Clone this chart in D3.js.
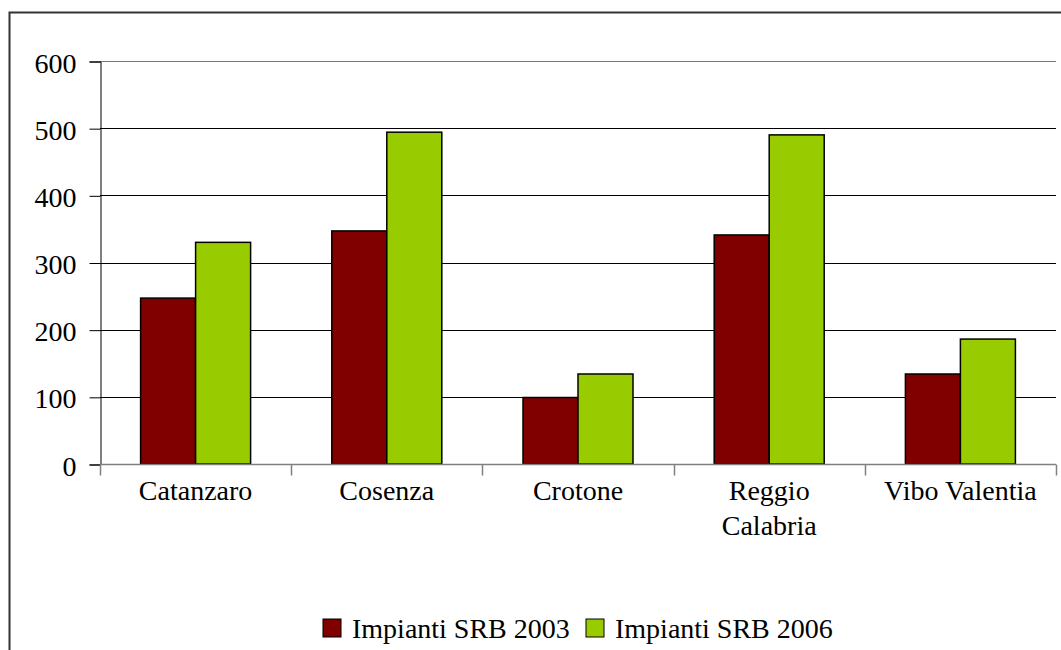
<!DOCTYPE html>
<html>
<head>
<meta charset="utf-8">
<script src="https://cdn.jsdelivr.net/npm/d3@7"></script>
<style>
  html, body { margin: 0; padding: 0; background: #fff; }
  svg { display: block; }
</style>
</head>
<body>
<svg id="chart" width="1061" height="650"></svg>
<script>
// Impianti SRB per provincia (Calabria)
const categories = ["Catanzaro", "Cosenza", "Crotone", "Reggio Calabria", "Vibo Valentia"];
const categoryLines = [["Catanzaro"], ["Cosenza"], ["Crotone"], ["Reggio", "Calabria"], ["Vibo Valentia"]];
const seriesNames = ["Impianti SRB 2003", "Impianti SRB 2006"];
const values2003 = [247, 347, 99, 341, 134];
const values2006 = [330, 494, 134, 490, 186];
const yTicks = [0, 100, 200, 300, 400, 500, 600];
const colors = ["#800000", "#99cc00"];

const FONT = "'Liberation Serif', 'Times New Roman', Tinos, serif";
const svg = d3.select("#chart");

// Outer chart frame (continues past the right and bottom edges)
svg.append("rect")
  .attr("x", 9.5).attr("y", 12.5)
  .attr("width", 1100).attr("height", 700)
  .attr("fill", "none").attr("stroke", "#333").attr("stroke-width", 2);

const plot = { left: 100, right: 1056, top: 61, bottom: 464 };

const x = d3.scaleBand().domain(categories).range([plot.left, plot.right]).padding(0);
const y = d3.scaleLinear().domain([0, 600]).range([plot.bottom, plot.top]);

// Horizontal gridlines
svg.append("g")
  .selectAll("line")
  .data(yTicks.filter(d => d > 0))
  .join("line")
  .attr("x1", plot.left).attr("x2", plot.right)
  .attr("y1", d => Math.round(y(d)) + 0.5).attr("y2", d => Math.round(y(d)) + 0.5)
  .attr("stroke", d => d === 600 ? "#777" : "#000").attr("stroke-width", 1);

// Y axis
const yAxis = d3.axisLeft(y).tickValues(yTicks).tickSize(11).tickPadding(13).tickFormat(d3.format("d"));
const yg = svg.append("g").attr("transform", `translate(${plot.left + 0.5},0.5)`).call(yAxis);
yg.select(".domain").attr("stroke", "#000");
yg.selectAll(".tick line").attr("stroke", "#000");
yg.selectAll("text")
  .style("font-family", FONT).style("font-size", "28px")
  .attr("fill", "#000").attr("dy", "0.38em");

// Bars
const inner = d3.scaleBand().domain(seriesNames).range([0, 110]);
const groupOffset = (x.bandwidth() - 110) / 2;
const series = [values2003, values2006];
seriesNames.forEach((name, si) => {
  svg.append("g")
    .selectAll("rect")
    .data(categories)
    .join("rect")
    .attr("x", c => x(c) + groupOffset + inner(name))
    .attr("y", (c, i) => y(series[si][i]))
    .attr("width", inner.bandwidth())
    .attr("height", (c, i) => y(0) - y(series[si][i]))
    .attr("fill", colors[si])
    .attr("stroke", "#000").attr("stroke-width", 1.5);
});

// X axis
const xg = svg.append("g").attr("transform", `translate(0,${plot.bottom + 0.5})`);
xg.append("line").attr("x1", plot.left).attr("x2", plot.right).attr("stroke", "#808080").attr("stroke-width", 1.5);
const xTickPos = categories.map(c => x(c)).concat([plot.right]);
xg.selectAll("line.tk").data(xTickPos).join("line").attr("class", "tk")
  .attr("x1", d => Math.round(d) + 0.5).attr("x2", d => Math.round(d) + 0.5)
  .attr("y1", 0).attr("y2", 11).attr("stroke", "#808080").attr("stroke-width", 1.5);

// Category labels
const labels = svg.append("g");
categories.forEach((c, i) => {
  const cx = x(c) + x.bandwidth() / 2;
  const t = labels.append("text")
    .attr("x", cx)
    .attr("y", 500)
    .attr("text-anchor", "middle")
    .style("font-family", FONT).style("font-size", "28px")
    .attr("fill", "#000");
  categoryLines[i].forEach((ln, j) => {
    t.append("tspan").attr("x", cx).attr("dy", j === 0 ? 0 : 35).text(ln);
  });
});

// Legend
const legend = svg.append("g");
const legendX = [323, 586];
seriesNames.forEach((name, i) => {
  legend.append("rect")
    .attr("x", legendX[i]).attr("y", 619).attr("width", 18).attr("height", 18)
    .attr("fill", colors[i]).attr("stroke", "#000").attr("stroke-width", 1);
  legend.append("text")
    .attr("x", legendX[i] + 29).attr("y", 638)
    .style("font-family", FONT).style("font-size", "28px")
    .attr("fill", "#000")
    .text(name);
});
</script>
</body>
</html>
